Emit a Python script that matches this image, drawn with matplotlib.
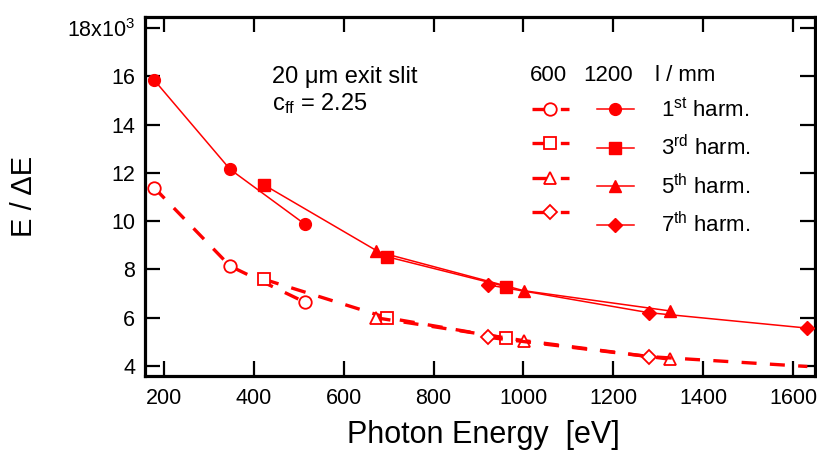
import matplotlib
matplotlib.use('Agg')
import matplotlib.pyplot as plt

plt.rcParams['font.family'] = ['Liberation Sans', 'DejaVu Sans']
plt.rcParams['mathtext.fontset'] = 'custom'
plt.rcParams['mathtext.rm'] = 'Liberation Sans'
plt.rcParams['mathtext.it'] = 'Liberation Sans:italic'
plt.rcParams['mathtext.bf'] = 'Liberation Sans:bold'

# ---- data (photon energy in eV, resolving power E/dE in units of 10^3) ----
energy_h1 = [178, 347, 514]
energy_h3 = [423, 696, 961]
energy_h5 = [671, 1001, 1327]
energy_h7 = [921, 1279, 1632]

res1200_h1 = [15.85, 12.15, 9.87]
res1200_h3 = [11.50, 8.53, 7.29]
res1200_h5 = [8.76, 7.12, 6.28]
res1200_h7 = [7.36, 6.21, 5.57]

res600_h1 = [11.39, 8.14, 6.64]
res600_h3 = [7.59, 6.00, 5.15]
res600_h5 = [6.00, 5.05, 4.28]
res600_h7 = [5.19, 4.39, 3.98]

harm_labels = ['1$^{\\mathrm{st}}$ harm.', '3$^{\\mathrm{rd}}$ harm.',
               '5$^{\\mathrm{th}}$ harm.', '7$^{\\mathrm{th}}$ harm.']
xticks = [200, 400, 600, 800, 1000, 1200, 1400, 1600]
yticks = [4, 6, 8, 10, 12, 14, 16, 18]
ytick_labels = ['4', '6', '8', '10', '12', '14', '16', '18x10$^{3}$']

RED = '#ff0000'

fig = plt.figure(figsize=(8.17, 4.59), dpi=100)
W, H = 817, 459
ax = fig.add_axes([145 / W, 1 - 376 / H, (815 - 145) / W, (376 - 17) / H])

dash = (0, (4.5, 4))
energies = [energy_h1, energy_h3, energy_h5, energy_h7]
r600 = [res600_h1, res600_h3, res600_h5, res600_h7]
r1200 = [res1200_h1, res1200_h3, res1200_h5, res1200_h7]
markers = ['o', 's', '^', 'D']
msz_open = [9, 9, 9, 7.5]
msz_fill = [8.5, 8.5, 8.5, 7.5]

h600, h1200 = [], []
for i in range(4):
    mevery = [0, 1] if i == 3 else None
    l, = ax.plot(energies[i], r600[i], color=RED, lw=2.4, linestyle=dash,
                 marker=markers[i], ms=msz_open[i], mfc='white', mec=RED,
                 mew=1.3, markevery=mevery, zorder=3)
    h600.append(l)
for i in range(4):
    l, = ax.plot(energies[i], r1200[i], color=RED, lw=1.1, linestyle='-',
                 marker=markers[i], ms=msz_fill[i], mfc=RED, mec=RED,
                 zorder=4)
    h1200.append(l)

ax.set_xlim(157.7, 1649)
ax.set_ylim(3.586, 18.46)
ax.set_xticks(xticks)
ax.set_yticks(yticks)
ax.set_yticklabels(ytick_labels)
ax.tick_params(direction='in', length=11, width=1.6, top=True, right=True,
               labelsize=15.5, colors='black')
ax.tick_params(axis='x', pad=9)
ax.tick_params(axis='y', pad=7)
for sp in ax.spines.values():
    sp.set_linewidth(2.3)

ax.set_xlabel('Photon Energy  [eV]', fontsize=22)
ax.xaxis.set_label_coords((483 - 145) / 670, (376 - 420) / 359)
ax.set_ylabel('E / ΔE', fontsize=21)
ax.yaxis.set_label_coords((38 - 145) / 670, 0.5)

def axpos(px, py):
    return (px - 145) / 670, (376 - py) / 359

ax.text(*axpos(272, 83), '20 μm exit slit', fontsize=17, va='baseline',
        ha='left', transform=ax.transAxes)
ax.text(*axpos(272, 110), 'c$_{\\mathrm{ff}}$ = 2.25', fontsize=17,
        va='baseline', ha='left', transform=ax.transAxes)

ax.text(*axpos(548, 81), '600', fontsize=16, va='baseline', ha='center',
        transform=ax.transAxes)
ax.text(*axpos(608, 81), '1200', fontsize=16, va='baseline', ha='center',
        transform=ax.transAxes)
ax.text(*axpos(655, 81), 'l / mm', fontsize=16, va='baseline', ha='left',
        transform=ax.transAxes)

leg = ax.legend(h600 + h1200, [''] * 4 + harm_labels, ncol=2,
                loc='upper left', bbox_to_anchor=axpos(532, 98),
                frameon=False, fontsize=16, handlelength=1.66,
                handletextpad=1.25, columnspacing=0.0, borderpad=0,
                borderaxespad=0, labelspacing=0.6)

fig.savefig('out.png', dpi=100)
